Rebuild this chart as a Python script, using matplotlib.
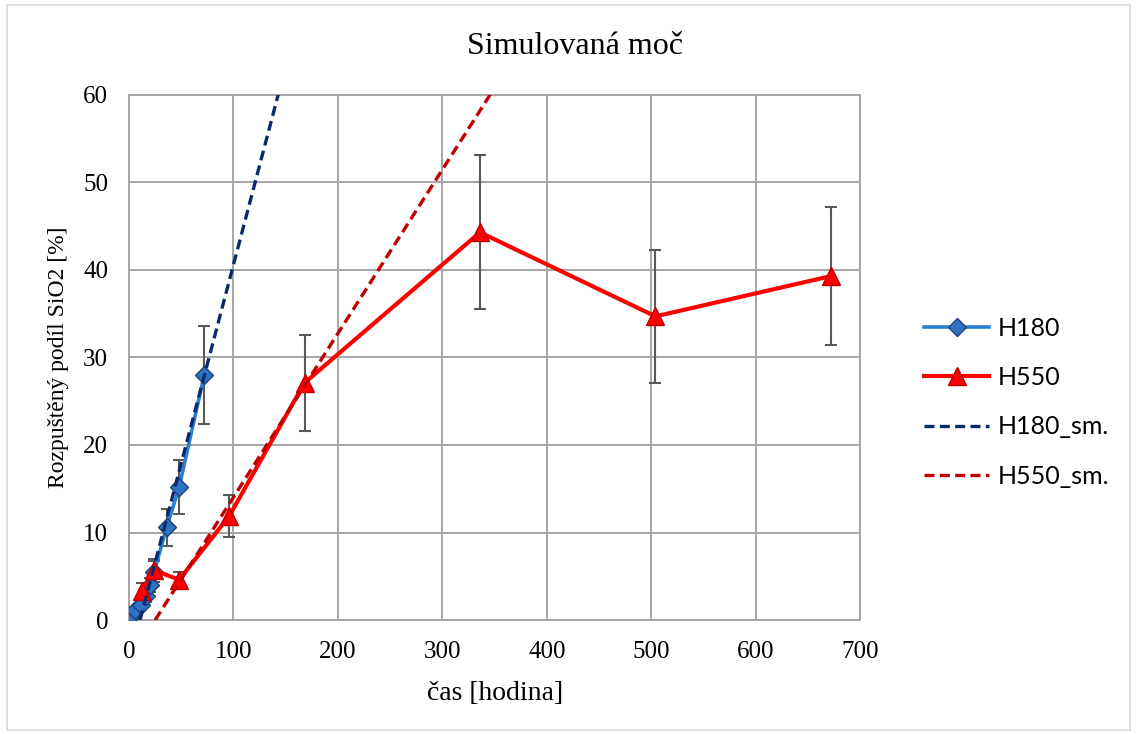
import matplotlib
matplotlib.use("Agg")
import matplotlib.pyplot as plt
from matplotlib.patches import Rectangle

# ---- data ----
h180_x = [2, 6, 11, 16, 20, 24, 36, 48, 72]
h180_y = [0.5, 1.1, 1.7, 2.7, 4.0, 5.5, 10.6, 15.2, 28.0]
h180_err = [0.2, 0.3, 0.4, 0.6, 0.8, 1.2, 2.1, 3.1, 5.6]

h550_x = [12, 24, 48, 96, 168, 336, 504, 672]
h550_y = [3.3, 5.7, 4.6, 11.9, 27.1, 44.3, 34.7, 39.3]
h550_err = [0.9, 1.3, 0.9, 2.4, 5.5, 8.8, 7.6, 7.9]

h180_sm_x = [10.5, 150]
h180_sm_y = [0, 63.3]
h550_sm_x = [25, 360]
h550_sm_y = [0, 62.7]

x_ticks = [0, 100, 200, 300, 400, 500, 600, 700]
y_ticks = [0, 10, 20, 30, 40, 50, 60]

title = "Simulovaná moč"
xlabel = "čas [hodina]"
ylabel = "Rozpuštěný podíl SiO2 [%]"
labels = ["H180", "H550", "H180_sm.", "H550_sm."]

# ---- figure ----
fig = plt.figure(figsize=(11.37, 7.34), dpi=100)
fig.patches.append(Rectangle((0.006, 0.005), 0.988, 0.988, transform=fig.transFigure,
                             fill=False, edgecolor="#d9d9d9", linewidth=1.2))
ax = fig.add_axes([0.1135, 0.1553, 0.6430, 0.7153])

serif = "Liberation Serif"
grid_c = "#a6a6a6"

ax.errorbar(h180_x, h180_y, yerr=h180_err, fmt="none", ecolor="#595959",
            elinewidth=1.5, capsize=4.3, capthick=1.5, zorder=3)
ax.errorbar(h550_x, h550_y, yerr=h550_err, fmt="none", ecolor="#595959",
            elinewidth=1.5, capsize=4.3, capthick=1.5, zorder=3)

l1, = ax.plot(h180_x, h180_y, color="#2a7fd0", linewidth=2.6, marker="D",
              markersize=9.5, markerfacecolor="#2d72c4", markeredgecolor="#1f3f75",
              markeredgewidth=1.0, zorder=4)
l2, = ax.plot(h550_x, h550_y, color="#ff0000", linewidth=3.0, marker="^",
              markersize=13, markerfacecolor="#ff0000", markeredgecolor="#c00000",
              markeredgewidth=1.0, zorder=4)
l3, = ax.plot(h180_sm_x, h180_sm_y, color="#0b2a6b", linewidth=2.4,
              linestyle=(0, (3, 1.6)), zorder=5)
l4, = ax.plot(h550_sm_x, h550_sm_y, color="#c00000", linewidth=2.4,
              linestyle=(0, (3, 1.6)), zorder=5)

ax.set_xlim(0, 700)
ax.set_ylim(0, 60)
ax.set_xticks(x_ticks)
ax.set_yticks(y_ticks)
ax.grid(True, color=grid_c, linewidth=1.4, zorder=0)
ax.set_axisbelow(True)
for s in ax.spines.values():
    s.set_color(grid_c)
    s.set_linewidth(1.4)
ax.tick_params(axis="x", length=0, labelsize=18, pad=15)
ax.tick_params(axis="y", length=0, labelsize=18, pad=15)
for t in ax.get_xticklabels() + ax.get_yticklabels():
    t.set_fontfamily(serif)
fig.text(0.506, 0.936, title, fontfamily=serif, fontsize=23,
         ha="center", va="center")
ax.set_xlabel(xlabel, fontfamily=serif, fontsize=20, labelpad=13)
ax.set_ylabel(ylabel, fontfamily=serif, fontsize=17, labelpad=10)

leg = fig.legend([l1, l2, l3, l4], labels, loc="center left",
                 bbox_to_anchor=(0.793, 0.452), frameon=False,
                 prop={"family": "Lato", "size": 18}, handlelength=2.6,
                 handletextpad=0.35, labelspacing=1.05)

fig.savefig("out.png", dpi=100)
